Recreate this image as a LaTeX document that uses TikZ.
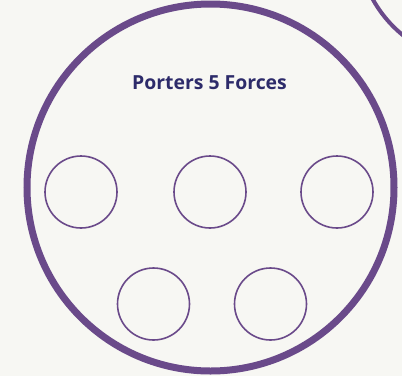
\documentclass[tikz,border=0pt]{standalone}
\usepackage{fontspec}
\setmainfont{Open Sans}
\definecolor{bg}{HTML}{F7F7F3}
\definecolor{ring}{HTML}{6A4A8A}
\definecolor{title}{HTML}{2D2B6A}
\begin{document}
\begin{tikzpicture}[x=1pt,y=-1pt,
  bigring/.style={draw=ring,line width=7pt,circle,minimum size=367pt,inner sep=0pt},
  smallring/.style={draw=ring,line width=1.6pt,circle,minimum size=72pt,inner sep=0pt},
  sidering/.style={draw=ring,line width=4pt,circle,minimum size=245pt,inner sep=0pt}]
\fill[bg] (0,0) rectangle (402,376);
\useasboundingbox (0,0) rectangle (402,376);
\node[bigring] (big) at (210.5,187.5) {};
\node[sidering] (side) at (480,-60) {};
\node[text=title,font=\fontsize{19.4}{22}\selectfont\bfseries] (t) at (209.5,83) {Porters 5 Forces};
\node[smallring] (f1) at (81,192) {};
\node[smallring] (f2) at (210,192) {};
\node[smallring] (f3) at (337,192) {};
\node[smallring] (f4) at (153.5,304) {};
\node[smallring] (f5) at (270.5,304) {};
\end{tikzpicture}
\end{document}
